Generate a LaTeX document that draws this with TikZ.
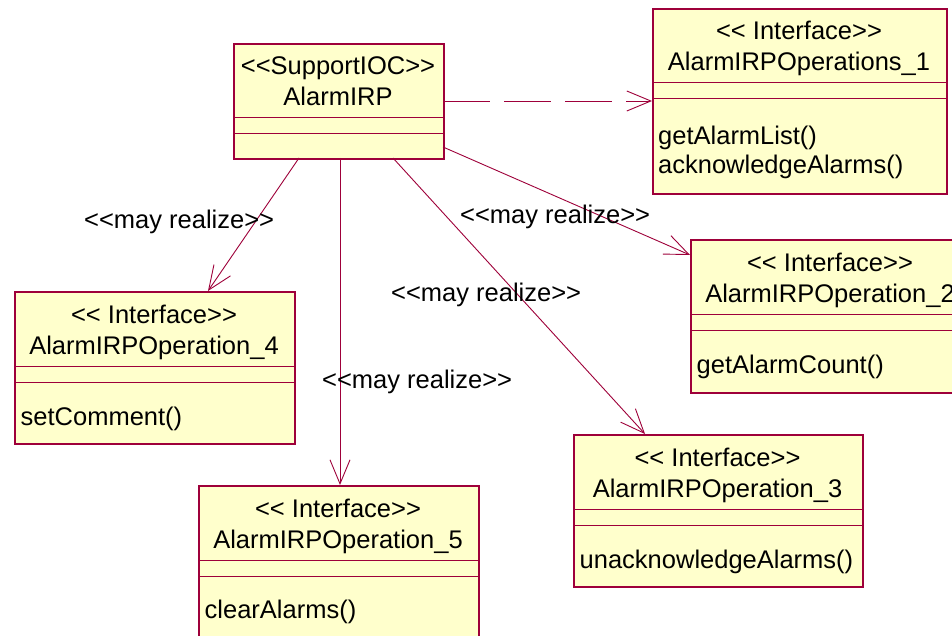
\documentclass[tikz,border=0pt]{standalone}
\usepackage{fontspec}
\setmainfont{Liberation Sans}[Ligatures=TeXOff]
\usetikzlibrary{arrows.meta,calc}
\definecolor{crim}{RGB}{158,0,58}
\definecolor{boxfill}{RGB}{255,255,204}
\newcommand\umlfont{\fontsize{25.5}{31}\selectfont}
\tikzset{
  umlbox/.style={draw=crim, fill=boxfill, line width=1.6pt, rectangle, inner sep=0pt, anchor=north west},
  sepline/.style={draw=crim, line width=1pt},
  ttxt/.style={inner sep=0pt, anchor=base, font=\umlfont},
  mtxt/.style={inner sep=0pt, anchor=base west, font=\umlfont},
  lbl/.style={inner sep=0pt, anchor=base west, font=\umlfont},
  conn/.style={draw=crim, line width=0.9pt, -{Straight Barb[length=24pt,width=20pt,line width=0.9pt]}},
  dconn/.style={conn, dash pattern=on 47pt off 14pt},
}
% name, x, y (top), width, height
\newcommand\drawumlbox[5]{%
  \node[umlbox, minimum width=#4pt, minimum height=#5pt] (#1) at (#2,#3) {};
  \draw[sepline] ($(#1.north west)+(0,75)$) -- ($(#1.north east)+(0,75)$);
  \draw[sepline] ($(#1.north west)+(0,91)$) -- ($(#1.north east)+(0,91)$);
}
\begin{document}
\begin{tikzpicture}[x=1pt,y=-1pt]
\useasboundingbox (0,0) rectangle (952,636);
\fill[white] (0,0) rectangle (952,636);

% boxes
\drawumlbox{irp}{233}{43}{210}{115}
\drawumlbox{ia}{652}{8}{294}{185}
\drawumlbox{ib}{690}{239}{280}{153}
\drawumlbox{id}{14}{291}{280}{152}
\drawumlbox{ie}{198}{485}{280}{170}
\drawumlbox{ic}{573}{434}{289}{152}

% texts of AlarmIRP
\node[ttxt] (irpS) at (338,75) {<<SupportIOC>>};
\node[ttxt] (irpN) at (338,106) {AlarmIRP};

% interface 1
\node[ttxt] (iaS) at (799,40) {<< Interface>>};
\node[ttxt] (iaN) at (799,71) {AlarmIRPOperations\_1};
\node[mtxt] (iaM1) at (658,145) {getAlarmList()};
\node[mtxt] (iaM2) at (658,174) {acknowledgeAlarms()};

% interface 2
\node[ttxt] (ibS) at (830,271) {<< Interface>>};
\node[ttxt] (ibN) at (830,302) {AlarmIRPOperation\_2};
\node[mtxt] (ibM1) at (696.5,373) {getAlarmCount()};

% interface 4
\node[ttxt] (idS) at (154,323) {<< Interface>>};
\node[ttxt] (idN) at (154,354) {AlarmIRPOperation\_4};
\node[mtxt] (idM1) at (20.5,425) {setComment()};

% interface 5
\node[ttxt] (ieS) at (338,517) {<< Interface>>};
\node[ttxt] (ieN) at (338,548) {AlarmIRPOperation\_5};
\node[mtxt] (ieM1) at (204.5,618) {clearAlarms()};

% interface 3
\node[ttxt] (icS) at (717.5,466) {<< Interface>>};
\node[ttxt] (icN) at (717.5,497) {AlarmIRPOperation\_3};
\node[mtxt] (icM1) at (579.5,568) {unacknowledgeAlarms()};

% connector end points on borders
\coordinate (pA1) at (443,101);
\coordinate (pA2) at (652,101);
\coordinate (pB1) at (443,147);
\coordinate (pB2) at (690,255);
\coordinate (pC1) at (393,158);
\coordinate (pC2) at (645,434);
\coordinate (pD1) at (299,158);
\coordinate (pD2) at (208,291);
\coordinate (pE1) at (340,158);
\coordinate (pE2) at (340,485);

\draw[dconn] (pA1) -- (pA2);
\draw[conn] (pB1) -- (pB2);
\draw[conn] (pC1) -- (pC2);
\draw[conn] (pD1) -- (pD2);
\draw[conn] (pE1) -- (pE2);

% labels
\node[lbl] (l1) at (84,229) {<<may realize>>};
\node[lbl] (l2) at (460,224) {<<may realize>>};
\node[lbl] (l3) at (391,301) {<<may realize>>};
\node[lbl] (l4) at (322,388) {<<may realize>>};
\end{tikzpicture}
\end{document}
